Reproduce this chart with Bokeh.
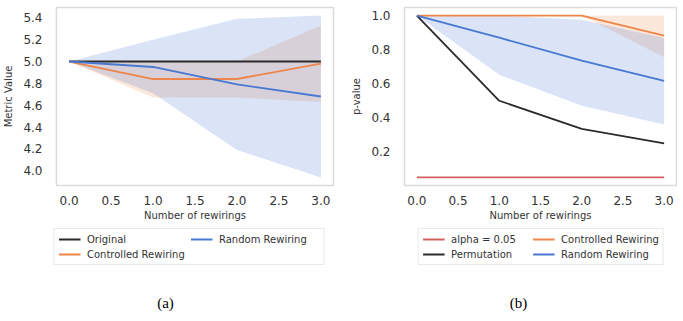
from bokeh.plotting import figure
from bokeh.models import Legend, LegendItem, Label, Range1d, FixedTicker, PrintfTickFormatter
from bokeh.layouts import row, column
from bokeh.embed import file_html
from bokeh.resources import INLINE

# ---------------- data ----------------
rewirings = [0, 1, 2, 3]
x_ticks = [0.0, 0.5, 1.0, 1.5, 2.0, 2.5, 3.0]

# (a) metric value
original = [5.0, 5.0, 5.0, 5.0]
controlled_a = [5.0, 4.84, 4.84, 4.98]
controlled_a_low = [5.0, 4.67, 4.67, 4.63]
controlled_a_high = [5.0, 5.0, 5.0, 5.33]
random_a = [5.0, 4.95, 4.79, 4.68]
random_a_low = [5.0, 4.71, 4.19, 3.94]
random_a_high = [5.0, 5.2, 5.39, 5.42]
yticks_a = [4.0, 4.2, 4.4, 4.6, 4.8, 5.0, 5.2, 5.4]
labels_a = ["Original", "Controlled Rewiring", "Random Rewiring"]

# (b) p-value
alpha_level = [0.05, 0.05, 0.05, 0.05]
permutation = [1.0, 0.5, 0.335, 0.25]
controlled_b = [1.0, 1.0, 1.0, 0.883]
controlled_b_low = [1.0, 1.0, 1.0, 0.755]
controlled_b_high = [1.0, 1.0, 1.0, 1.0]
random_b = [1.0, 0.87, 0.735, 0.617]
random_b_low = [1.0, 0.653, 0.471, 0.361]
random_b_high = [1.0, 1.0, 0.975, 0.869]
yticks_b = [0.2, 0.4, 0.6, 0.8, 1.0]
labels_b = ["alpha = 0.05", "Permutation", "Controlled Rewiring", "Random Rewiring"]

captions = ["(a)", "(b)"]

# ---------------- style ----------------
FONT = "DejaVu Sans"
TXT = "#333333"
BLUE = "#4878d0"
ORANGE = "#ee854a"
RED = "#d65f5f"
BLACK = "#2b2b2b"
LW = 1.8


def style(p, yticks, ylabel):
    p.outline_line_color = "#dcdcdc"
    p.outline_line_width = 1.5
    p.xgrid.visible = False
    p.ygrid.visible = False
    for ax in (p.xaxis[0], p.yaxis[0]):
        ax.axis_line_color = None
        ax.major_tick_line_color = None
        ax.minor_tick_line_color = None
        ax.major_label_text_font = FONT
        ax.major_label_text_font_size = "12px"
        ax.major_label_text_color = TXT
        ax.axis_label_text_font = FONT
        ax.axis_label_text_font_size = "10px"
        ax.axis_label_text_font_style = "normal"
        ax.axis_label_text_color = TXT
        ax.formatter = PrintfTickFormatter(format="%.1f")
    p.xaxis.ticker = FixedTicker(ticks=x_ticks)
    p.yaxis.ticker = FixedTicker(ticks=yticks)
    p.xaxis.axis_label = "Number of rewirings"
    p.yaxis.axis_label = ylabel
    p.xaxis.major_label_standoff = 4
    p.xaxis.axis_label_standoff = 2
    p.yaxis.major_label_standoff = 8
    p.yaxis.axis_label_standoff = 6


def legend_fig(width, bl, br, series, labels, colors, label_w, caption, cap_x):
    # legend proxies: the same series drawn outside the visible x-range
    f = figure(width=width, height=92, x_range=Range1d(10, 11), y_range=Range1d(0, 1),
               output_backend="svg", toolbar_location=None,
               min_border_left=bl, min_border_right=br, min_border_top=0, min_border_bottom=0)
    f.axis.visible = False
    f.grid.visible = False
    f.outline_line_color = None
    items = []
    for ser, lab, col in zip(series, labels, colors):
        r = f.line(rewirings, ser, line_color=col, line_width=LW)
        items.append(LegendItem(label=lab, renderers=[r]))
    leg = Legend(items=items, location="top_center", orientation="vertical", nrows=2,
                 label_text_font=FONT, label_text_font_size="10px", label_text_color=TXT,
                 glyph_width=22, glyph_height=12, label_height=12, label_width=label_w,
                 label_standoff=7, padding=4, spacing=3, margin=5,
                 border_line_color="#d6d6d6", border_line_width=1,
                 background_fill_color="white", background_fill_alpha=1)
    f.add_layout(leg, "center")
    f.add_layout(Label(x=cap_x, y=13, x_units="screen", y_units="screen", text=caption,
                       text_align="center", text_baseline="middle",
                       text_font="Liberation Serif", text_font_size="15px", text_color="black"))
    return f


# ---------------- (a) ----------------
pa = figure(frame_width=277, frame_height=178, x_range=Range1d(-0.15, 3.15), y_range=Range1d(3.866, 5.494),
            output_backend="svg", toolbar_location=None,
            min_border_left=50, min_border_right=15, min_border_top=7, min_border_bottom=38)
style(pa, yticks_a, "Metric Value")
pa.varea(x=rewirings, y1=controlled_a_low, y2=controlled_a_high, fill_color=ORANGE, fill_alpha=0.2)
pa.varea(x=rewirings, y1=random_a_low, y2=random_a_high, fill_color=BLUE, fill_alpha=0.2)
pa.line(rewirings, original, line_color=BLACK, line_width=LW)
pa.line(rewirings, controlled_a, line_color=ORANGE, line_width=LW)
pa.line(rewirings, random_a, line_color=BLUE, line_width=LW)

la = legend_fig(342, 45, 10, [original, controlled_a, random_a], labels_a,
                [BLACK, ORANGE, BLUE], 100, captions[0], 120)

# ---------------- (b) ----------------
pb = figure(frame_width=272, frame_height=178, x_range=Range1d(-0.15, 3.15), y_range=Range1d(0.0025, 1.0475),
            output_backend="svg", toolbar_location=None,
            min_border_left=52, min_border_right=1, min_border_top=7, min_border_bottom=38)
style(pb, yticks_b, "p-value")
pb.varea(x=rewirings, y1=controlled_b_low, y2=controlled_b_high, fill_color=ORANGE, fill_alpha=0.2)
pb.varea(x=rewirings, y1=random_b_low, y2=random_b_high, fill_color=BLUE, fill_alpha=0.2)
pb.line(rewirings, alpha_level, line_color=RED, line_width=LW)
pb.line(rewirings, permutation, line_color=BLACK, line_width=LW)
pb.line(rewirings, controlled_b, line_color=ORANGE, line_width=LW)
pb.line(rewirings, random_b, line_color=BLUE, line_width=LW)

lb = legend_fig(325, 74, 2, [alpha_level, permutation, controlled_b, random_b], labels_b,
                [RED, BLACK, ORANGE, BLUE], 78, captions[1], 102)

layout = column(row(pa, pb), row(la, lb))
open("out.html", "w").write(file_html(layout, INLINE))
